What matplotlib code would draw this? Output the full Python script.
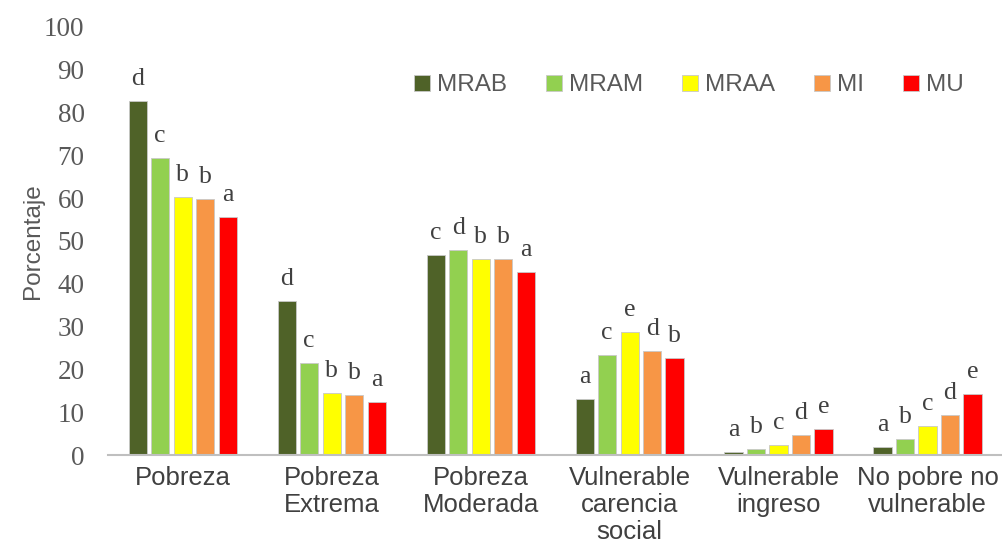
import numpy as np
import matplotlib.pyplot as plt

# Data
categories = ['Pobreza', 'Pobreza\nExtrema', 'Pobreza\nModerada',
              'Vulnerable\ncarencia\nsocial', 'Vulnerable\ningreso',
              'No pobre no\nvulnerable']
series = ['MRAB', 'MRAM', 'MRAA', 'MI', 'MU']
mrab = [82.7, 36.0, 46.7, 13.1, 0.8, 1.8]
mram = [69.4, 21.5, 47.9, 23.4, 1.5, 3.7]
mraa = [60.3, 14.5, 45.8, 28.8, 2.4, 6.8]
mi = [59.8, 14.0, 45.8, 24.3, 4.7, 9.3]
mu = [55.6, 12.4, 42.8, 22.7, 6.1, 14.2]
letters_mrab = ['d', 'd', 'c', 'a', 'a', 'a']
letters_mram = ['c', 'c', 'd', 'c', 'b', 'b']
letters_mraa = ['b', 'b', 'b', 'e', 'c', 'c']
letters_mi = ['b', 'b', 'b', 'd', 'd', 'd']
letters_mu = ['a', 'a', 'a', 'b', 'e', 'e']

values = [mrab, mram, mraa, mi, mu]
letters = [letters_mrab, letters_mram, letters_mraa, letters_mi, letters_mu]
colors = ['#4F6228', '#92D050', '#FFFF00', '#F79646', '#FF0000']

fig = plt.figure(figsize=(10.02, 5.59), dpi=100)
ax = fig.add_axes([0.108, 0.186, 0.892, 0.766])

x = np.arange(len(categories))
step = 0.151
width = 0.122
for i, (vals, labs, col, name) in enumerate(zip(values, letters, colors, series)):
    pos = x + (i - 2) * step
    ax.bar(pos, vals, width, color=col, edgecolor='#c8c8c8', linewidth=0.6, label=name)
    for px, v, lab in zip(pos, vals, labs):
        ax.annotate(lab, (px, v), xytext=(0, 11.5), textcoords='offset points',
                    ha='center', va='baseline', fontsize=18.5,
                    family='Liberation Serif', color='#404040')

ax.set_xlim(-0.5, len(categories) - 0.5)
ax.set_ylim(0, 100)
ax.set_yticks(np.arange(0, 101, 10))
ax.set_xticks(x)
ax.set_xticklabels(categories, fontsize=18.5, family='Liberation Sans',
                   color='#404040', linespacing=1.15)
for t in ax.get_yticklabels():
    t.set_fontfamily('Liberation Serif')
    t.set_fontsize(19.5)
    t.set_color('#595959')
ax.tick_params(axis='both', length=0)
ax.tick_params(axis='y', pad=17)
ax.tick_params(axis='x', pad=8)
for s in ['top', 'right', 'left']:
    ax.spines[s].set_visible(False)
ax.spines['bottom'].set_color('#bfbfbf')
ax.spines['bottom'].set_linewidth(1.5)
ax.set_ylabel('Porcentaje', fontsize=17.5, family='Liberation Sans', color='#595959', labelpad=0)

leg = ax.legend(loc='upper left', bbox_to_anchor=(0.318, 0.94), ncol=5, frameon=False,
                prop={'family': 'Liberation Sans', 'size': 17.5},
                handlelength=0.65, handleheight=0.65, handletextpad=0.3, columnspacing=1.6)
for t in leg.get_texts():
    t.set_color('#595959')

fig.savefig('out.png', dpi=100)
